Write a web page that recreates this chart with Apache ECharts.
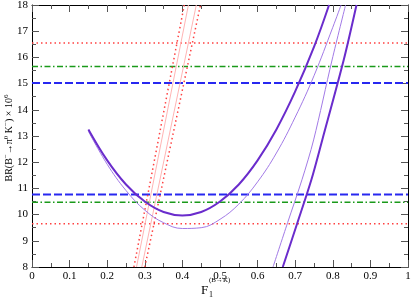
<!DOCTYPE html>
<html>
<head>
<meta charset="utf-8">
<script src="https://cdn.jsdelivr.net/npm/echarts@6/dist/echarts.min.js"></script>
<style>html,body{margin:0;padding:0;background:#fff}#c{width:411px;height:299px}</style>
</head>
<body>
<div id="c"></div>
<script>
// ---- data ----
const xTicks = [0, 0.1, 0.2, 0.3, 0.4, 0.5, 0.6, 0.7, 0.8, 0.9, 1];
const yTicks = [8, 9, 10, 11, 12, 13, 14, 15, 16, 17, 18];

const thickCurveX = [0.15, 0.2, 0.25, 0.3, 0.35, 0.4, 0.45, 0.5, 0.55, 0.6, 0.65, 0.7, 0.75, 0.79];
const thickCurveY = [13.25, 12.07, 11.15, 10.5, 10.1, 9.97, 10.1, 10.5, 11.15, 12.07, 13.25, 14.7, 16.4, 18.0];

const thinCurveX = [0.15, 0.2, 0.25, 0.3, 0.35, 0.4, 0.45, 0.5, 0.55, 0.6, 0.65, 0.7, 0.75, 0.8, 0.822];
const thinCurveY = [13.18, 11.92, 10.92, 10.17, 9.69, 9.47, 9.5, 9.82, 10.4, 11.25, 12.35, 13.72, 15.3, 17.15, 18.0];

const thinSteepX = [0.641, 0.68, 0.718, 0.749, 0.798, 0.834];
const thinSteepY = [8.0, 9.7, 11.33, 12.85, 15.9, 18.0];

const thickSteepX = [0.667, 0.705, 0.743, 0.772, 0.829, 0.863];
const thickSteepY = [8.0, 9.65, 11.33, 12.85, 15.9, 18.0];

const redDotLeftX = [0.271, 0.405];
const redDotRightX = [0.300, 0.448];
const pinkLeftX = [0.278, 0.416];
const pinkRightX = [0.292, 0.437];
const bandY = [8, 18];

const redLevels = [16.55, 9.65];
const greenLevels = [15.65, 10.47];
const blueLevels = [15.02, 10.77];
const levelX = [0, 1];

// ---- build chart ----
function zip(xs, ys) { return xs.map((x, i) => [x, ys[i]]); }
const FONT = 'Liberation Serif';

function lineSeries(data, color, width, type, smooth) {
  return {
    type: 'line', data: data, showSymbol: false, smooth: smooth || false,
    silent: true, animation: false,
    lineStyle: { color: color, width: width, type: type || 'solid' },
    z: 3
  };
}

const series = [];
redLevels.forEach(v => series.push(lineSeries(zip(levelX, [v, v]), '#ff4040', 1.5, [1.5, 3])));
greenLevels.forEach(v => series.push(lineSeries(zip(levelX, [v, v]), '#1a9a1a', 1.5, [6, 2.5, 1.5, 2.5])));
blueLevels.forEach(v => series.push(lineSeries(zip(levelX, [v, v]), '#2828f0', 2, [8, 3])));

series.push(lineSeries(zip(redDotLeftX, bandY), '#ff4040', 1.5, [1.5, 3]));
series.push(lineSeries(zip(redDotRightX, bandY), '#ff4040', 1.5, [1.5, 3]));
series.push(lineSeries(zip(pinkLeftX, bandY), '#ffb4b4', 1, 'solid'));
series.push(lineSeries(zip(pinkRightX, bandY), '#ffb4b4', 1, 'solid'));

series.push(lineSeries(zip(thinCurveX, thinCurveY), '#a27ae6', 1, 'solid', 0.4));
series.push(lineSeries(zip(thinSteepX, thinSteepY), '#a27ae6', 1, 'solid', 0.3));
series.push(lineSeries(zip(thickCurveX, thickCurveY), '#6a2ccc', 2, 'solid', 0.4));
series.push(lineSeries(zip(thickSteepX, thickSteepY), '#6a2ccc', 2, 'solid', 0.3));

function axisCommon(showLabels) {
  return {
    axisLine: { show: true, onZero: false, lineStyle: { color: '#000', width: 1 } },
    axisTick: { show: true, inside: true, length: 7, lineStyle: { color: '#555', width: 1 } },
    minorTick: { show: true, splitNumber: 2, length: 4, lineStyle: { color: '#555', width: 1 } },
    splitLine: { show: false },
    minorSplitLine: { show: false },
    axisLabel: { show: showLabels, color: '#000', fontFamily: FONT, fontSize: 11, margin: 4 }
  };
}

const xMin = xTicks[0], xMax = xTicks[xTicks.length - 1];
const yMin = yTicks[0], yMax = yTicks[yTicks.length - 1];

const option = {
  animation: false,
  backgroundColor: '#fff',
  grid: { left: 32, right: 3, top: 5, bottom: 32, containLabel: false, outerBoundsMode: 'none' },
  xAxis: [
    Object.assign({ type: 'value', min: xMin, max: xMax, interval: 0.1, position: 'bottom' }, axisCommon(true),
      { axisLabel: { show: true, color: '#000', fontFamily: FONT, fontSize: 11, margin: 4,
        formatter: v => (v === 0 || v === 1) ? String(v) : v.toFixed(1) } }),
    Object.assign({ type: 'value', min: xMin, max: xMax, interval: 0.1, position: 'top' }, axisCommon(false))
  ],
  yAxis: [
    Object.assign({ type: 'value', min: yMin, max: yMax, interval: 1, position: 'left' }, axisCommon(true)),
    Object.assign({ type: 'value', min: yMin, max: yMax, interval: 1, position: 'right' }, axisCommon(false))
  ],
  graphic: [
    { type: 'text', x: 9, y: 138, rotation: Math.PI / 2, silent: true,
      style: {
        text: 'BR(B{sup|−}→π{sup|0} K{sup|−}) × 10{sup|6}',
        font: '10px "Liberation Serif"', fill: '#000',
        align: 'center', verticalAlign: 'middle', lineHeight: 12,
        rich: { sup: { font: '7px "Liberation Serif"', fill: '#000', lineHeight: 12, verticalAlign: 'top' } }
      } },
    { type: 'text', left: 201, top: 284, silent: true,
      style: { text: 'F', font: '13px "Liberation Serif"', fill: '#000' } },
    { type: 'text', left: 209, top: 277, silent: true,
      style: { text: '(B→K)', font: '7px "Liberation Serif"', fill: '#000' } },
    { type: 'text', left: 209, top: 291, silent: true,
      style: { text: '1', font: '8px "Liberation Serif"', fill: '#000' } }
  ],
  series: series
};

const chart = echarts.init(document.getElementById('c'), null, { renderer: 'canvas', width: 411, height: 299 });
chart.setOption(option);
</script>
</body>
</html>
